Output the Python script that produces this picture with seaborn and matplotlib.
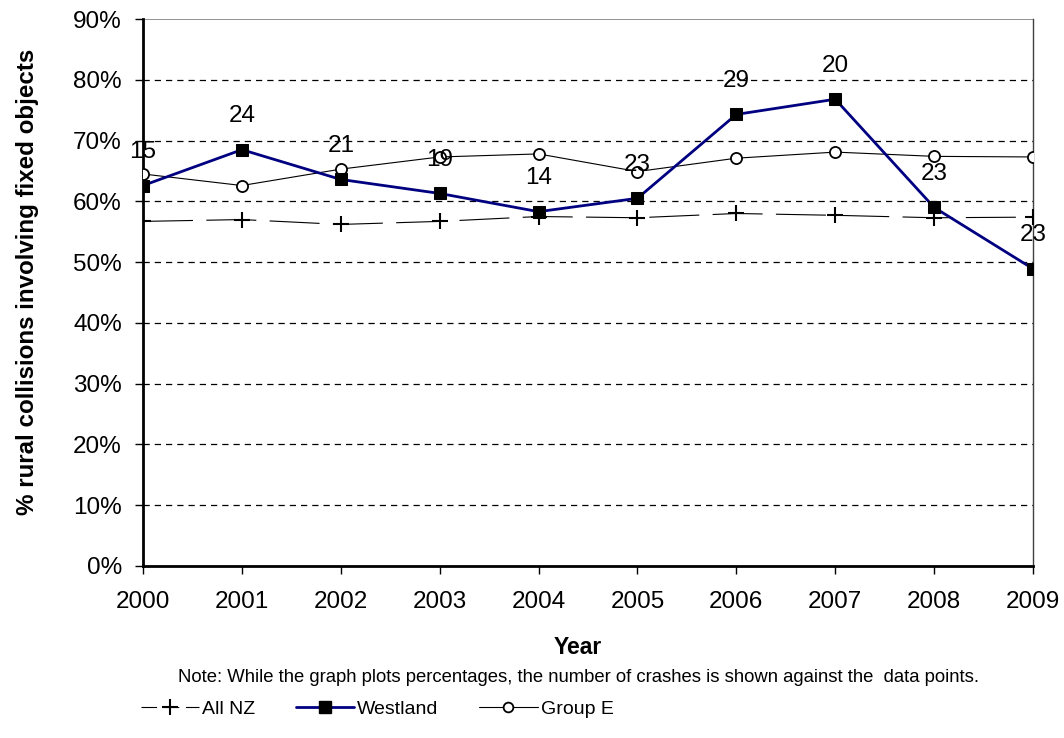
import matplotlib
matplotlib.use("Agg")
import matplotlib.pyplot as plt
import seaborn as sns
import pandas as pd
from matplotlib.lines import Line2D

years = [2000, 2001, 2002, 2003, 2004, 2005, 2006, 2007, 2008, 2009]
all_nz = [56.7, 57.0, 56.2, 56.7, 57.5, 57.3, 58.0, 57.7, 57.3, 57.4]
westland = [62.6, 68.5, 63.6, 61.3, 58.3, 60.5, 74.3, 76.8, 59.0, 48.9]
group_e = [64.5, 62.6, 65.3, 67.3, 67.8, 64.9, 67.1, 68.1, 67.4, 67.3]
crash_counts = [15, 24, 21, 19, 14, 23, 29, 20, 23, 23]
y_ticks = [0, 10, 20, 30, 40, 50, 60, 70, 80, 90]

sns.set_theme(style="white")
plt.rcParams['font.family'] = ['Liberation Sans', 'DejaVu Sans']
plt.rcParams.update({"text.color": "black", "axes.labelcolor": "black",
                     "xtick.color": "black", "ytick.color": "black"})

FS = 17.5

fig = plt.figure(figsize=(10.64, 7.38), dpi=100)
ax = fig.add_axes([143/1064, 1 - 566/738, (1033-143)/1064, (566-19)/738])

df = pd.DataFrame({"Year": years, "All NZ": all_nz, "Westland": westland, "Group E": group_e})

# gridlines
for v in y_ticks[1:-1]:
    ax.axhline(v, color="black", lw=0.9, ls=(0, (5, 4)), zorder=0)
ax.axhline(90, color="#808080", lw=1.2, zorder=0)

sns.lineplot(data=df, x="Year", y="Group E", ax=ax, color="black", lw=0.8,
             marker="o", markersize=8, markerfacecolor="white",
             markeredgecolor="black", markeredgewidth=1.3, zorder=3)
sns.lineplot(data=df, x="Year", y="All NZ", ax=ax, color="black", lw=0.8,
             marker="+", markersize=12, markeredgewidth=1.5,
             markeredgecolor="black", markerfacecolor="black",
             dashes=False, zorder=3)
ax.lines[-1].set_linestyle((0, (45, 12)))
sns.lineplot(data=df, x="Year", y="Westland", ax=ax, color="#000080", lw=2,
             marker="s", markersize=9, markerfacecolor="black",
             markeredgecolor="black", zorder=4)

for x, y, c in zip(years, westland, crash_counts):
    ax.annotate(str(c), (x, y), xytext=(0, 24), textcoords="offset points",
                ha="center", va="center", fontsize=FS, color="black", zorder=5)

ax.set_xlim(2000, 2009)
ax.set_ylim(0, 90)
ax.set_xticks(years)
ax.set_xticklabels([str(y) for y in years], fontsize=FS)
ax.set_yticks(y_ticks)
ax.set_yticklabels([f"{v}%" for v in y_ticks], fontsize=FS)
ax.tick_params(axis="both", which="major", direction="out", length=5.8, width=1,
               color="black", labelcolor="black", bottom=True, left=True)
ax.tick_params(axis="y", pad=9.4)
ax.tick_params(axis="x", pad=12.5)

for s in ["left", "bottom"]:
    ax.spines[s].set_color("black")
    ax.spines[s].set_linewidth(2)
ax.spines["right"].set_color("#404040")
ax.spines["right"].set_linewidth(1)
ax.spines["top"].set_visible(False)

ax.set_xlabel("")
ax.set_ylabel("% rural collisions involving fixed objects", fontsize=17.4,
              fontweight="bold", color="black")
ax.yaxis.set_label_coords(-104/890, (566-282)/547)

fig.text(578/1064, 1 - 647/738, "Year", ha="center", va="center",
         fontsize=16.5, fontweight="bold", color="black")
fig.text(578/1064, 1 - 678/738,
         "Note: While the graph plots percentages, the number of crashes is shown against the  data points.",
         ha="center", va="center", fontsize=13.3, color="black")

handles = [
    Line2D([], [], color="black", lw=0.8, ls=(0, (14, 6)), marker="+",
           markersize=12, markeredgewidth=1.5),
    Line2D([], [], color="#000080", lw=2, marker="s", markersize=9,
           markerfacecolor="black", markeredgecolor="black"),
    Line2D([], [], color="black", lw=0.8, marker="o", markersize=7,
           markerfacecolor="white", markeredgecolor="black", markeredgewidth=1.3),
]
leg = fig.legend(handles, ["All NZ", "Westland", "Group E"], loc="center",
                 bbox_to_anchor=(377/1064, 1 - 709/738), ncol=3, frameon=False,
                 fontsize=14, handlelength=3.0, handletextpad=0.15, columnspacing=2.1)
for t in leg.get_texts():
    t.set_color("black")

fig.savefig("out.png", dpi=100)
